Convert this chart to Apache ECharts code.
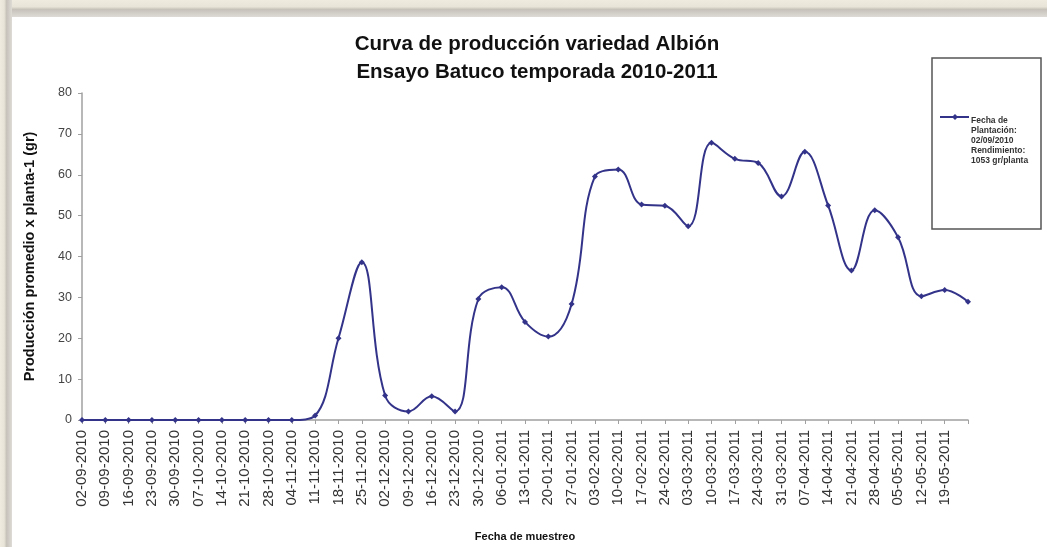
<!DOCTYPE html>
<html>
<head>
<meta charset="utf-8">
<script src="https://cdn.jsdelivr.net/npm/echarts@6/dist/echarts.min.js"></script>
<style>
html,body{margin:0;padding:0;background:#fff;}
#c{width:1047px;height:547px;}
</style>
</head>
<body>
<div id="c"></div>
<script>
var titleLines = ['Curva de producción variedad Albión', 'Ensayo Batuco temporada 2010-2011'];
var yAxisName = 'Producción promedio x planta-1 (gr)';
var xAxisName = 'Fecha de muestreo';
var seriesName = 'Fecha de\nPlantación:\n02/09/2010\nRendimiento:\n1053 gr/planta';
var categories = ['02-09-2010','09-09-2010','16-09-2010','23-09-2010','30-09-2010','07-10-2010','14-10-2010','21-10-2010','28-10-2010','04-11-2010','11-11-2010','18-11-2010','25-11-2010','02-12-2010','09-12-2010','16-12-2010','23-12-2010','30-12-2010','06-01-2011','13-01-2011','20-01-2011','27-01-2011','03-02-2011','10-02-2011','17-02-2011','24-02-2011','03-03-2011','10-03-2011','17-03-2011','24-03-2011','31-03-2011','07-04-2011','14-04-2011','21-04-2011','28-04-2011','05-05-2011','12-05-2011','19-05-2011','26-05-2011'];
var values = [0,0,0,0,0,0,0,0,0,0,1.1,20,38.6,6.0,2.1,5.8,2.1,29.6,32.5,24.0,20.4,28.4,59.6,61.3,52.7,52.4,47.4,67.8,63.9,62.9,54.7,65.6,52.5,36.6,51.3,44.7,30.3,31.8,28.9];
var yTicks = [0,10,20,30,40,50,60,70,80];

var chart = echarts.init(document.getElementById('c'));
var lineColor = '#33338a';
chart.setOption({
  backgroundColor: '#ffffff',
  animation: false,
  title: {
    text: titleLines.join('\n'),
    left: 532, top: 25, textAlign: 'center',
    textStyle: {fontFamily: 'Liberation Sans', fontSize: 20.5, fontWeight: 'bold', color: '#111', lineHeight: 28}
  },
  graphic: [
    {type:'rect', z:-10, shape:{x:0,y:0,width:1047,height:17},
     style:{fill:new echarts.graphic.LinearGradient(0,0,0,1,[{offset:0,color:'#efebde'},{offset:0.4,color:'#e8e4d7'},{offset:0.55,color:'#c6c2ba'},{offset:1,color:'#dedbd6'}])}},
    {type:'rect', z:-10, shape:{x:0,y:0,width:12,height:547},
     style:{fill:new echarts.graphic.LinearGradient(0,0,1,0,[{offset:0,color:'#efebde'},{offset:0.35,color:'#e8e4d7'},{offset:0.55,color:'#c6c2ba'},{offset:1,color:'#dedbd6'}])}},
    {type:'rect', z:-5, shape:{x:932,y:58,width:109,height:171},
     style:{fill:'#fff', stroke:'#555', lineWidth:1.5}},
    {type:'line', z:10, shape:{x1:940,y1:117,x2:969,y2:117}, style:{stroke:lineColor, lineWidth:2}},
    {type:'polygon', z:11, shape:{points:[[955,114],[958,117],[955,120],[952,117]]}, style:{fill:lineColor}}
  ],
  legend: {
    show: true,
    left: 937, top: 111,
    itemWidth: 24, itemHeight: 8,
    textStyle: {fontFamily:'Liberation Sans', fontSize: 8.5, fontWeight:'bold', color:'#333', lineHeight: 10},
    data: [{name: seriesName, icon: 'none'}]
  },
  grid: {left: 82, right: 79, top: 93, bottom: 125, containLabel: false},
  xAxis: {
    type: 'category',
    data: categories,
    boundaryGap: false,
    name: xAxisName,
    nameLocation: 'middle',
    nameGap: 111,
    nameTextStyle: {fontFamily:'Liberation Sans', fontSize: 11, fontWeight:'bold', color:'#111'},
    axisLine: {lineStyle: {color:'#a0a0a0', width: 1.5}},
    axisTick: {show: true, length: 4, lineStyle: {color:'#a0a0a0'}},
    axisLabel: {
      interval: 0, rotate: 90, fontFamily:'Liberation Sans', fontSize: 15, color:'#333', margin: 10,
      formatter: function (v, i) { return i === categories.length - 1 ? '' : v; }
    },
    splitLine: {show: false}
  },
  yAxis: {
    type: 'value',
    min: 0, max: 80, interval: 10,
    name: yAxisName,
    nameLocation: 'middle',
    nameGap: 45,
    nameTextStyle: {fontFamily:'Liberation Sans', fontSize: 14.5, fontWeight:'bold', color:'#111'},
    axisLine: {show: true, lineStyle: {color:'#a0a0a0', width: 1.5}},
    axisTick: {show: true, length: 4, lineStyle: {color:'#a0a0a0'}},
    axisLabel: {fontFamily:'Liberation Sans', fontSize: 12.5, color:'#444', margin: 10,
      formatter: function (v) { return yTicks.indexOf(v) >= 0 ? String(v) : ''; }},
    splitLine: {show: false}
  },
  series: [{
    name: seriesName,
    type: 'line',
    data: values,
    smooth: 0.4,
    symbol: 'diamond',
    symbolSize: 6,
    showSymbol: true,
    lineStyle: {color: lineColor, width: 2},
    itemStyle: {color: lineColor}
  }]
});
</script>
</body>
</html>
